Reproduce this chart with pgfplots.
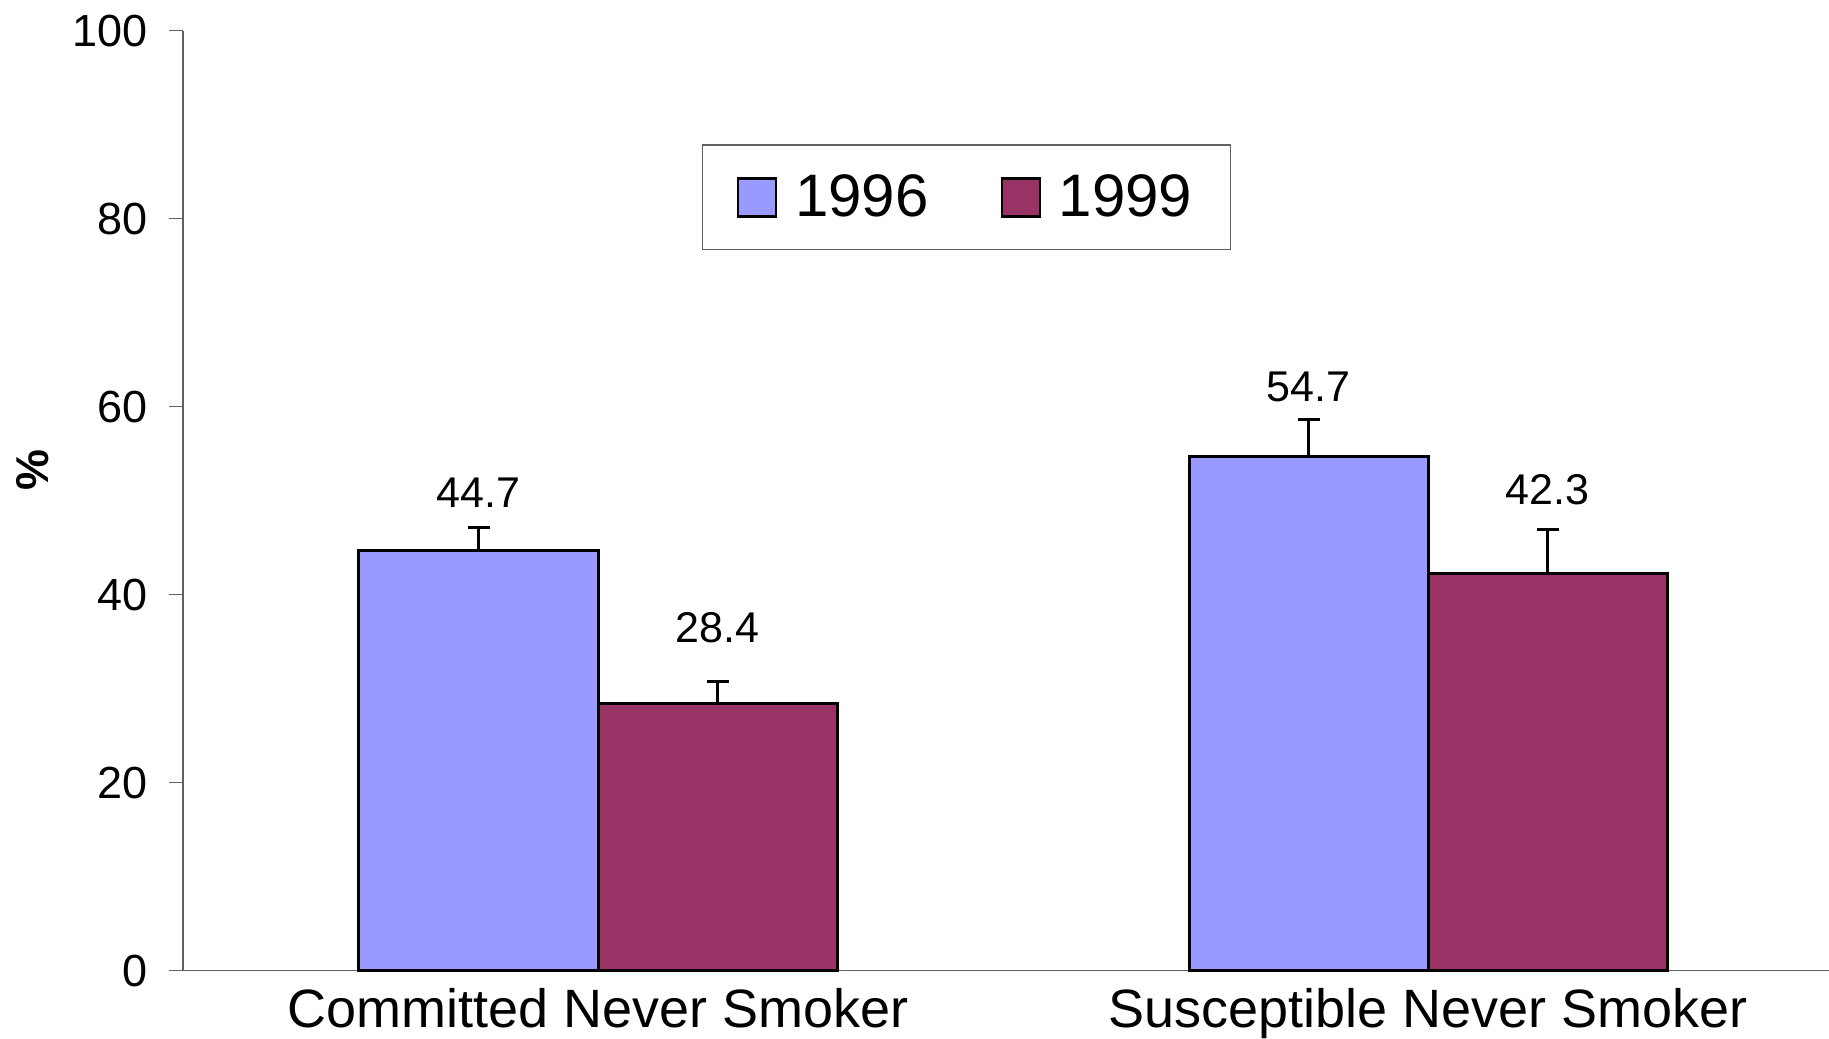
\documentclass[border=0pt]{standalone}
\usepackage{pgfplots}
\pgfplotsset{compat=1.18}
\usepackage{fontspec}
\setmainfont{Liberation Sans}
\definecolor{cA}{HTML}{9999FF}
\definecolor{cB}{HTML}{993366}
\definecolor{axgray}{HTML}{606060}
\begin{document}
\begin{tikzpicture}
\begin{axis}[
  name=ax,
  scale only axis,
  width=823pt, height=470pt,
  xmin=-0.5, xmax=1.483, ymin=0, ymax=100,
  axis x line*=bottom, axis y line*=left,
  axis line style={draw=axgray, line width=0.6pt, -},
  x axis line style={shorten <=-7pt},
  /pgf/number format/assume math mode=true,
  ytick={0,20,40,60,80,100},
  xtick={0,1},
  xticklabels={Committed Never Smoker, Susceptible Never Smoker},
  x tick style={draw=none},
  y tick style={draw=axgray, line width=0.6pt},
  tick align=outside,
  major tick length=7pt,
  yticklabel style={font=\fontsize{22.5}{22.5}\selectfont, text=black, xshift=-7pt},
  xticklabel style={font=\fontsize{27}{27}\selectfont, text=black, yshift=1.5pt},
  clip=false,
  legend columns=2,
  legend style={at={(rel axis cs:0.476,0.8226)}, anchor=center,
    draw=axgray, line width=0.6pt, font=\fontsize{30}{30}\selectfont,
    inner xsep=17pt, inner ysep=13pt,
    /tikz/every odd column/.append style={column sep=7pt},
    /tikz/every even column/.append style={column sep=34pt}},
  legend image code/.code={\draw[#1, line width=1.2pt] (0pt,-9.5pt) rectangle (19pt,9.5pt);},
]
\addplot[ybar, bar width=0.288, bar shift=0, fill=cA, draw=black, line width=1.5pt,
  error bars/.cd, y dir=plus, y explicit,
  error bar style={line width=1.5pt, black},
  error mark options={rotate=90, mark size=5.5pt, line width=1.5pt, black}]
  coordinates {(-0.144,44.7) +- (0,2.5) (0.856,54.7) +- (0,3.9)};
\addlegendentry{1996}
\addplot[ybar, bar width=0.288, bar shift=0, fill=cB, draw=black, line width=1.5pt,
  error bars/.cd, y dir=plus, y explicit,
  error bar style={line width=1.5pt, black},
  error mark options={rotate=90, mark size=5.5pt, line width=1.5pt, black}]
  coordinates {(0.144,28.4) +- (0,2.4) (1.144,42.3) +- (0,4.6)};
\addlegendentry{1999}
\node[font=\fontsize{21.5}{21.5}\selectfont] at (axis cs:-0.144,50.9) {44.7};
\node[font=\fontsize{21.5}{21.5}\selectfont] at (axis cs:0.144,36.5) {28.4};
\node[font=\fontsize{21.5}{21.5}\selectfont] at (axis cs:0.856,62.06) {54.7};
\node[font=\fontsize{21.5}{21.5}\selectfont] at (axis cs:1.144,51.15) {42.3};
\end{axis}
\node[rotate=90, font=\fontsize{23}{23}\bfseries\selectfont] at ([xshift=-75pt,yshift=15.5pt]ax.west) {\%};
\pgfresetboundingbox
\path ([xshift=-91.5pt,yshift=-33.65pt]ax.south west) rectangle ([yshift=15.35pt]ax.north east);
\end{tikzpicture}
\end{document}
